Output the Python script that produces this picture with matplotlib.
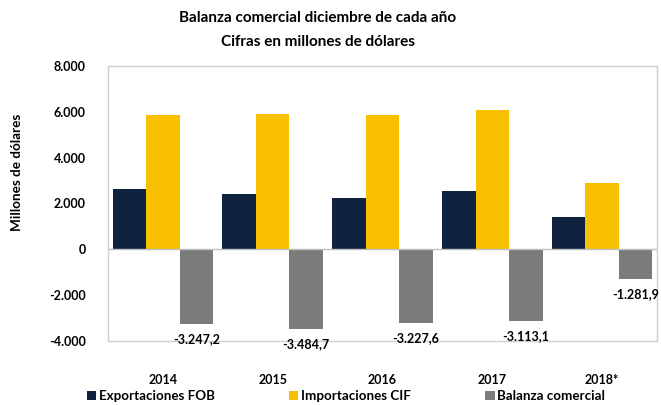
import matplotlib
matplotlib.use("Agg")
import matplotlib.pyplot as plt
import numpy as np

plt.rcParams['font.family'] = ['Lato', 'DejaVu Sans']
plt.rcParams['font.weight'] = 'bold'

anios = ["2014", "2015", "2016", "2017", "2018*"]
exportaciones = [2620, 2420, 2220, 2540, 1390]
importaciones = [5865, 5905, 5875, 6095, 2880]
balanza = [-3247.2, -3484.7, -3227.6, -3113.1, -1281.9]
yticks = [-4000, -2000, 0, 2000, 4000, 6000, 8000]

c_exp = '#0F2341'
c_imp = '#F8C000'
c_bal = '#7B7B7B'

def fmt_miles(v, dec=0):
    s = f"{v:,.{dec}f}"
    return s.replace(",", "X").replace(".", ",").replace("X", ".")

fig = plt.figure(figsize=(6.61, 4.05), dpi=100)
ax = fig.add_axes([108/661, 64/405, 549/661, 275/405])

x = np.arange(len(anios))
w = 0.306
ax.bar(x - w, exportaciones, w, color=c_exp, label="Exportaciones FOB")
ax.bar(x, importaciones, w, color=c_imp, label="Importaciones CIF")
b3 = ax.bar(x + w, balanza, w, color=c_bal, label="Balanza comercial")

# etiquetas de la balanza bajo cada barra
for rect, v in zip(b3, balanza):
    ax.annotate(fmt_miles(v, 1), (rect.get_x() + rect.get_width()/2, v),
                xytext=(0, -11), textcoords='offset points',
                ha='center', va='center', fontsize=9, fontweight='bold',
                annotation_clip=False)

ax.set_xlim(-0.5, len(anios) - 0.5)
ax.set_ylim(-4000, 8000)
ax.set_yticks(yticks)
ax.set_yticklabels([fmt_miles(t) for t in yticks], fontsize=9, fontweight='bold')
ax.set_xticks(x)
ax.set_xticklabels(anios, fontsize=9, fontweight='bold')
ax.tick_params(axis='both', length=0)
ax.tick_params(axis='y', pad=16)
ax.tick_params(axis='x', pad=24)
ax.axhline(0, color='#BFBFBF', lw=1)
for s in ax.spines.values():
    s.set_color('#D0D0D0')
    s.set_linewidth(1)

fig.text(17/661, 1 - 172/405, "Millones de dólares", rotation=90,
         ha='center', va='center', fontsize=9.7, fontweight='bold')
fig.text(318/661, 1 - 18/405, "Balanza comercial diciembre de cada año",
         ha='center', va='center', fontsize=11, fontweight='bold')
fig.text(318/661, 1 - 42/405, "Cifras en millones de dólares",
         ha='center', va='center', fontsize=11, fontweight='bold')

fig.legend(loc='center', bbox_to_anchor=(346/661, 1 - 396/405), ncol=3,
           frameon=False, fontsize=9.6, handlelength=0.68, handleheight=0.68,
           handletextpad=0.2, columnspacing=5.6)

fig.savefig("out.png", dpi=100)
